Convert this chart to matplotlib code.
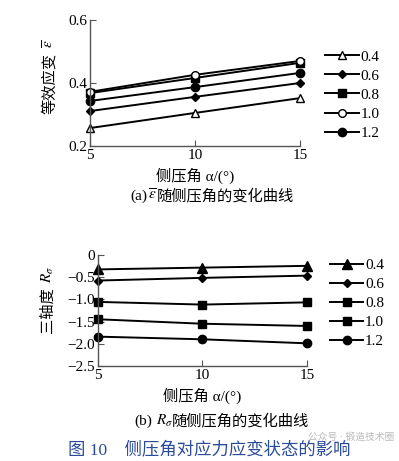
import matplotlib.pyplot as plt

plt.rcParams['font.family'] = ['Liberation Serif', 'Noto Sans CJK SC']
plt.rcParams['mathtext.fontset'] = 'stix'

# side pressure angle
angles = [5, 10, 15]
labels = ['0.4', '0.6', '0.8', '1.0', '1.2']

# (a) equivalent strain
strain_04 = [0.257, 0.305, 0.352]
strain_06 = [0.311, 0.356, 0.400]
strain_08 = [0.368, 0.416, 0.464]
strain_10 = [0.372, 0.426, 0.470]
strain_12 = [0.343, 0.387, 0.432]

# (b) stress triaxiality
triax_04 = [-0.33, -0.29, -0.25]
triax_06 = [-0.58, -0.52, -0.47]
triax_08 = [-1.06, -1.12, -1.07]
triax_10 = [-1.45, -1.55, -1.60]
triax_12 = [-1.84, -1.90, -1.99]

fig = plt.figure(figsize=(3.99, 4.61), dpi=100)

def style(ax):
    ax.spines['top'].set_visible(False)
    ax.spines['right'].set_visible(False)
    for s in ['left', 'bottom']:
        ax.spines[s].set_color('#555555')
        ax.spines[s].set_linewidth(1.0)
    ax.tick_params(direction='in', length=4, color='#555555', labelsize=11, pad=2)

def math_after(ax, s):
    # put a mathtext piece after the (rotated) y label
    ax.annotate(s, xy=(0.5, 1), xycoords=ax.yaxis.label, xytext=(0, 3),
                textcoords='offset points', rotation=90, ha='center', va='bottom', fontsize=11)

# ---- (a) ----
ax1 = fig.add_axes([0.2256, 0.6833, 0.5264, 0.2733])
sty_a = [('^', 'white'), ('D', 'black'), ('s', 'black'), ('o', 'white'), ('o', 'black')]
sizes_a = [6, 4.5, 5.5, 5.5, 6]
for ys, (m, fc), ms, lab in zip([strain_04, strain_06, strain_08, strain_10, strain_12], sty_a, sizes_a, labels):
    ax1.plot(angles, ys, color='black', lw=1.4, marker=m, ms=ms, mfc=fc, mec='black', mew=1.0, label=lab, clip_on=False)
ax1.set_xlim(5, 15)
ax1.set_ylim(0.2, 0.6)
ax1.set_xticks([5, 10, 15])
ax1.set_yticks([0.2, 0.4, 0.6])
ax1.set_yticklabels(['0.2', '0.4', '0.6'])
style(ax1)
ax1.set_ylabel('等效应变', fontsize=11, labelpad=8)
math_after(ax1, r'$\overline{\varepsilon}$')
ax1.set_xlabel('侧压角 α/(°)', fontsize=11, labelpad=4)
ax1.legend(loc='upper left', bbox_to_anchor=(1.09, 0.81), frameon=False, fontsize=11,
           handlelength=2.2, handletextpad=0.1, labelspacing=0.35, borderaxespad=0)
fig.text(0.326, 0.575, '(a)', ha='left', va='center', fontsize=11)
fig.text(0.371, 0.577, r'$\overline{\varepsilon}$', ha='left', va='center', fontsize=11)
fig.text(0.394, 0.575, '随侧压角的变化曲线', ha='left', va='center', fontsize=11)

# ---- (b) ----
ax2 = fig.add_axes([0.2456, 0.206, 0.5238, 0.2415])
sty_b = [('^', 'black'), ('D', 'black'), ('s', 'black'), ('s', 'black'), ('o', 'black')]
sizes_b = [6.5, 4.5, 5.5, 5.5, 6]
for ys, (m, fc), ms, lab in zip([triax_04, triax_06, triax_08, triax_10, triax_12], sty_b, sizes_b, labels):
    ax2.plot(angles, ys, color='black', lw=1.4, marker=m, ms=ms, mfc=fc, mec='black', mew=1.0, label=lab, clip_on=False)
ax2.set_xlim(5, 15)
ax2.set_ylim(-2.5, 0)
ax2.set_xticks([5, 10, 15])
ax2.set_yticks([0, -0.5, -1.0, -1.5, -2.0, -2.5])
ax2.set_yticklabels(['0', '−0.5', '−1.0', '−1.5', '−2.0', '−2.5'])
style(ax2)
ax2.set_ylabel('三轴度', fontsize=11, labelpad=9)
math_after(ax2, r'$R_\sigma$')
ax2.set_xlabel('侧压角 α/(°)', fontsize=11, labelpad=4)
ax2.legend(loc='upper left', bbox_to_anchor=(1.08, 1.02), frameon=False, fontsize=11,
           handlelength=2.2, handletextpad=0.1, labelspacing=0.35, borderaxespad=0)
fig.text(0.338, 0.087, '(b)', ha='left', va='center', fontsize=11)
fig.text(0.391, 0.087, r'$R_\sigma$', ha='left', va='center', fontsize=11)
fig.text(0.430, 0.087, '随侧压角的变化曲线', ha='left', va='center', fontsize=11)

fig.text(0.525, 0.024, '图 10    侧压角对应力应变状态的影响', ha='center', va='center',
         fontsize=12.5, color='#2b4a9a')
fig.text(0.88, 0.052, '公众号 · 锻造技术圈', ha='center', va='center', fontsize=7, color='#bbbbbb')

fig.savefig('out.png', dpi=100)
